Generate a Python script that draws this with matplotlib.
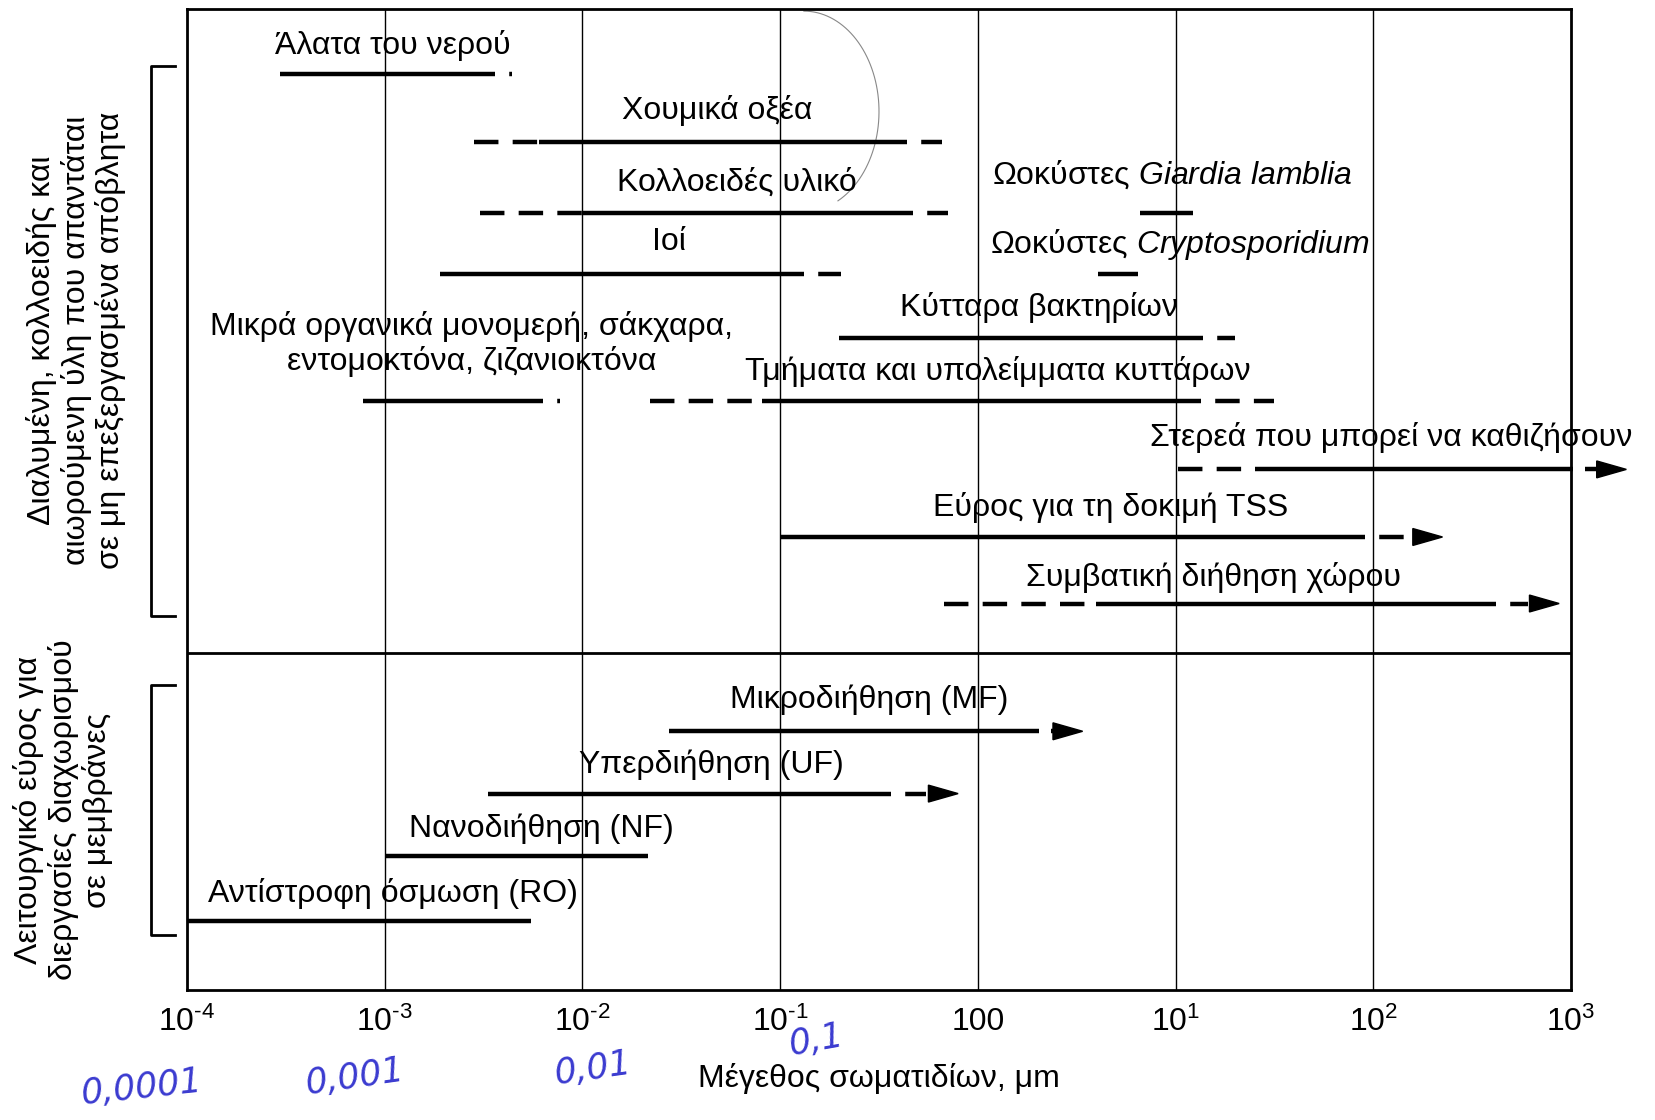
import numpy as np
import matplotlib
matplotlib.use("Agg")
import matplotlib.pyplot as plt

plt.rcParams['font.family'] = ['Liberation Sans Narrow', 'Liberation Sans', 'DejaVu Sans']
plt.rcParams['mathtext.fontset'] = 'custom'
plt.rcParams['mathtext.rm'] = 'Liberation Sans'
plt.rcParams['mathtext.it'] = 'Liberation Sans:italic'

# particle size ranges, log10(um)
labels = ['Άλατα του νερού', 'Χουμικά οξέα', 'Κολλοειδές υλικό', 'Ιοί',
          'Ωοκύστες $\\mathit{Giardia\\ lamblia}$', 'Ωοκύστες $\\mathit{Cryptosporidium}$',
          'Κύτταρα βακτηρίων', 'Μικρά οργανικά μονομερή, σάκχαρα,\nεντομοκτόνα, ζιζανιοκτόνα',
          'Τμήματα και υπολείμματα κυττάρων', 'Στερεά που μπορεί να καθιζήσουν',
          'Εύρος για τη δοκιμή TSS', 'Συμβατική διήθηση χώρου',
          'Μικροδιήθηση (MF)', 'Υπερδιήθηση (UF)', 'Νανοδιήθηση (NF)', 'Αντίστροφη όσμωση (RO)']
dash_start = [None, -2.55, -2.52, None, None, None, None, None, -1.66, 1.01, None, -0.17,
              None, None, None, None]
solid_start = [-3.53, -2.22, -2.00, -2.72, 0.82, 0.61, -0.70, -3.11, -1.09, 1.40, -1.00, 0.60,
               -1.56, -2.48, -3.00, -4.00]
solid_end = [-2.44, -0.36, -0.33, -0.88, 1.09, 0.81, 1.14, -2.20, 1.13, 3.01, 1.96, 2.62,
             0.31, -0.44, -1.67, -2.26]
dash_end = [-2.355, -0.18, -0.15, -0.69, None, None, 1.30, -2.115, 1.50, None, 2.16, 2.78,
            None, -0.26, None, None]
arrow_tip = [None, None, None, None, None, None, None, None, None, 3.28, 2.35, 2.94,
             0.53, -0.10, None, None]

tick_vals = [-4, -3, -2, -1, 0, 1, 2, 3]
tick_labels = ['10$^{\\mathregular{\u20104}}$', '10$^{\\mathregular{\u20103}}$',
               '10$^{\\mathregular{\u20102}}$', '10$^{\\mathregular{\u20101}}$', '100',
               '10$^{1}$', '10$^{2}$', '10$^{3}$']
handwritten = ['0,0001', '0,001', '0,01', '0,1']

# layout (row heights in picture units, label anchors)
line_y = [70, 134, 201, 259, 201, 259, 320, 379, 379, 444, 508, 571, 692, 751, 810, 872]
label_x = [-2.96, -1.32, -1.22, -1.56, 0.07, 0.06, 0.31, -2.56, 0.10, 2.09, 0.67, 1.19,
           -0.55, -1.35, -2.21, -2.96]
label_y = [43, 104, 172, 229, 165, 231, 291, 325, 351, 414, 480, 546, 662, 724, 784, 846]
label_ha = ['center'] * 4 + ['left', 'left'] + ['center'] * 10
hw_x = [-4.23, -3.15, -1.95, -0.82]
hw_y = [1030, 1020, 1012, 985]
hw_rot = [6, 8, 8, 10]

FS = 23
LW = 3.2
dash_pat = (5.5, 3.2)

fig = plt.figure(figsize=(16.56, 11.2), dpi=100)
ax = fig.add_axes([187 / 1656, 1 - 990 / 1120, (1571 - 187) / 1656, (990 - 9) / 1120])
ax.set_xlim(-4, 3)
ax.set_ylim(937, 8)

for v in tick_vals[1:-1]:
    ax.axvline(v, color='black', lw=1.0, zorder=1)
ax.axhline(618, color='black', lw=2.0, zorder=1)

for i in range(len(labels)):
    y = line_y[i]
    ax.plot([solid_start[i], solid_end[i]], [y, y], color='black', lw=LW,
            solid_capstyle='butt', zorder=3, clip_on=False)
    if dash_start[i] is not None:
        ax.plot([dash_start[i], solid_start[i]], [y, y], color='black', lw=LW,
                linestyle=(0, dash_pat), dash_capstyle='butt', zorder=3)
    last = solid_end[i]
    if dash_end[i] is not None:
        ax.plot([solid_end[i], dash_end[i]], [y, y], color='black', lw=LW,
                linestyle=(dash_pat[0], dash_pat), dash_capstyle='butt', zorder=3)
        last = dash_end[i]
    if arrow_tip[i] is not None:
        hl = 0.15
        tip = arrow_tip[i]
        if tip - hl > last + 0.06:
            ax.plot([last + 0.06, tip - hl], [y, y], color='black', lw=LW,
                    solid_capstyle='butt', zorder=3, clip_on=False)
        ax.fill([tip - hl, tip, tip - hl], [y - 8, y, y + 8], color='black',
                zorder=3, clip_on=False)
    ax.text(label_x[i], label_y[i], labels[i], ha=label_ha[i], va='center',
            fontsize=FS, multialignment='center', linespacing=1.15, zorder=4)

# brackets on the left
for top, bot in [(62, 583), (648, 885)]:
    ax.plot([-4.06, -4.18, -4.18, -4.06], [top, top, bot, bot], color='black', lw=2.0,
            clip_on=False)

fig.text(72 * 1.056 / 1656, 1 - 322 * 1.056 / 1120,
         'Διαλυμένη, κολλοειδής και\nαιωρούμενη ύλη που απαντάται\nσε μη επεξεργασμένα απόβλητα',
         rotation=90, ha='center', va='center', fontsize=FS, multialignment='center',
         linespacing=1.15)
fig.text(60 * 1.056 / 1656, 1 - 767 * 1.056 / 1120,
         'Λειτουργικό εύρος για\nδιεργασίες διαχωρισμού\nσε μεμβράνες',
         rotation=90, ha='center', va='center', fontsize=FS, multialignment='center',
         linespacing=1.15)

ax.set_xticks(tick_vals)
ax.set_xticklabels(tick_labels, fontsize=FS)
ax.tick_params(axis='x', length=0, pad=12)
ax.set_yticks([])
ax.set_xlabel('Μέγεθος σωματιδίων, μm', fontsize=FS, labelpad=18)
for s in ax.spines.values():
    s.set_linewidth(2.0)

for i in range(len(handwritten)):
    ax.text(hw_x[i], hw_y[i], handwritten[i], color='#3b3bd0', fontsize=25,
            fontstyle='italic', rotation=hw_rot[i], ha='center', va='center',
            clip_on=False, family='DejaVu Sans')

# faint hand-drawn arc near the top
t = np.linspace(np.pi / 2, -1.1, 60)
ax.plot(-0.88 + 0.38 * np.cos(t), 105 - 95 * np.sin(t), color='#888888', lw=0.8)

fig.savefig('out.png', dpi=100)
